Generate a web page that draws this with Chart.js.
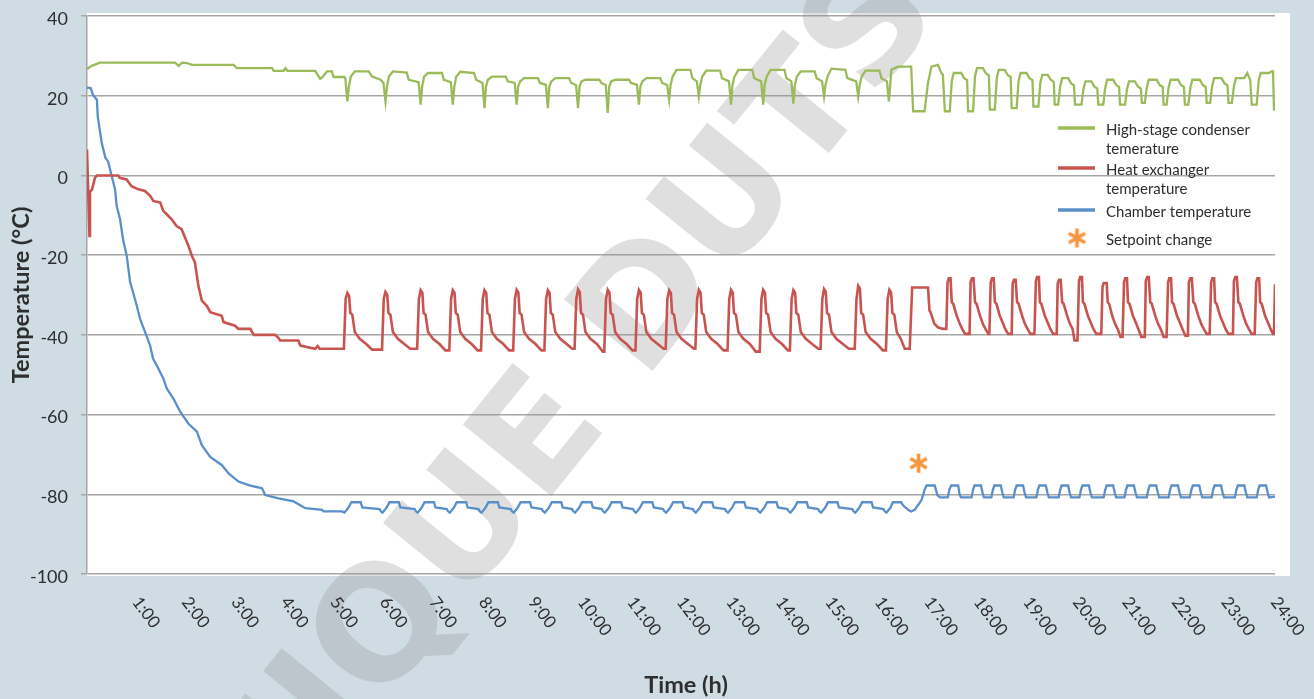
<!DOCTYPE html>
<html>
<head>
<meta charset="utf-8">
<title>Chamber temperatures</title>
<script src="https://cdn.jsdelivr.net/npm/chart.js@4.4.1/dist/chart.umd.min.js"></script>
<style>
  html, body { margin: 0; padding: 0; background: #cfdce4; }
  #wrap { width: 1314px; height: 699px; position: relative; }
</style>
</head>
<body>
<div id="wrap"><canvas id="chart"></canvas></div>
<script>
// [hours, degC] pairs
var condenser = [
  [0,26.7],[0.095,27.5],[0.26,28.3],[1.78,28.3],[1.85,27.5],[1.92,28.3],[2.02,28.2],[2.12,27.75],
  [2.96,27.75],[3.03,26.9],[3.74,26.9],[3.77,26.25],[3.97,26.25],[4.01,26.9],[4.05,26.25],[4.61,26.25],
  [4.71,24.25],[4.75,24.6],[4.85,26.1],[4.95,26.1],[4.98,24.7],[5.2,24.7],[5.22,24.2],
  [5.26,18.6],[5.29,22.3],[5.33,24.8],[5.41,26.1],[5.69,26.1],[5.76,24.8],[5.93,24],[5.99,23.2],
  [6.03,18.6],[6.06,22.3],[6.10,24.8],[6.18,26.1],[6.46,25.8],[6.50,24],[6.70,23.4],
  [6.74,17.75],[6.77,22.3],[6.81,24.8],[6.89,25.7],[7.17,25.7],[7.21,24],[7.35,23.4],
  [7.39,17.75],[7.42,22.3],[7.46,24.8],[7.54,26],[7.82,25.7],[7.86,24],[7.99,23.2],
  [8.03,16.9],[8.06,22.3],[8.10,24],[8.18,24.8],[8.46,24.8],[8.50,23.6],[8.64,23.2],
  [8.68,17.75],[8.71,22.3],[8.75,23.6],[8.83,24.4],[9.11,24.4],[9.15,23.2],[9.27,22.7],
  [9.31,16.9],[9.34,22.3],[9.38,23.6],[9.46,24.4],[9.74,24.4],[9.78,23.2],[9.88,22.7],
  [9.92,16.9],[9.95,22.3],[9.99,23.6],[10.07,24],[10.35,24],[10.39,23.2],[10.48,22.7],
  [10.52,15.7],[10.55,22.3],[10.59,23.6],[10.67,24],[10.95,24],[10.99,23.2],[11.11,22.7],
  [11.15,17.75],[11.18,22.3],[11.22,23.6],[11.30,24.4],[11.58,24.4],[11.62,23.2],[11.72,22.7],
  [11.76,19],[11.79,22.7],[11.83,24.8],[11.91,26.5],[12.19,26.5],[12.23,24.4],[12.32,23.6],
  [12.36,19.8],[12.39,22.7],[12.43,24.8],[12.51,26.3],[12.79,26.3],[12.83,24.4],[12.97,23.6],
  [13.01,17.75],[13.04,22.7],[13.08,24.8],[13.16,26.5],[13.44,26.5],[13.48,24.4],[13.62,23.6],
  [13.66,17.75],[13.69,22.7],[13.73,24.8],[13.81,26.5],[14.09,26.5],[14.13,24.4],[14.23,23.6],
  [14.27,18],[14.30,22.7],[14.34,24.8],[14.42,26.1],[14.70,26.1],[14.74,24.4],[14.85,23.6],
  [14.89,19.8],[14.92,22.7],[14.96,24.8],[15.04,26.8],[15.32,26.5],[15.36,24.4],[15.54,23.6],
  [15.58,19.8],[15.61,22.7],[15.65,24.8],[15.73,26.3],[16.01,26.3],[16.05,24.4],[16.16,23.6],
  [16.20,18.6],[16.25,26.5],[16.38,27.3],[16.65,27.3],[16.69,16.1],[16.92,16.1],[16.99,23.2],
  [17.06,27.3],[17.19,27.75],[17.26,25.7],[17.29,25.25],[17.33,16.1],[17.43,16.1],
  [17.47,23.7],[17.51,25.7],[17.66,25.7],[17.72,24.4],[17.78,23.9],[17.80,16.1],[17.90,16.1],
  [17.94,24.9],[17.98,26.9],[18.10,26.9],[18.16,25.6],[18.22,25.1],[18.24,16.5],[18.34,16.5],
  [18.38,24.5],[18.42,26.5],[18.54,26.5],[18.60,25.2],[18.66,24.7],[18.68,16.9],[18.78,16.9],
  [18.82,23.7],[18.86,25.7],[18.98,25.7],[19.04,24.4],[19.10,23.9],[19.12,17.3],[19.22,17.3],
  [19.26,23.3],[19.30,25.25],[19.41,25.25],[19.47,24],[19.53,23.5],[19.55,17.75],[19.62,17.75],
  [19.66,22.4],[19.70,24.4],[19.82,24.4],[19.88,23.1],[19.94,22.6],[19.96,17.75],[20.09,17.75],
  [20.13,21.6],[20.17,23.6],[20.29,23.6],[20.35,22.3],[20.41,21.8],[20.43,17.75],[20.53,17.75],
  [20.57,22],[20.61,24],[20.73,24],[20.79,22.7],[20.85,22.2],[20.87,17.75],[20.97,17.75],
  [21.01,21.6],[21.05,23.6],[21.17,23.6],[21.23,22.3],[21.29,21.8],[21.31,18.2],[21.37,18.2],
  [21.41,22],[21.45,24],[21.61,24],[21.67,22.7],[21.73,22.2],[21.75,17.75],[21.81,17.75],
  [21.85,22],[21.89,24],[22.04,24],[22.10,22.7],[22.16,22.2],[22.18,17.75],[22.25,17.75],
  [22.29,22],[22.33,24],[22.48,24],[22.54,22.7],[22.60,22.2],[22.62,18.2],[22.69,18.2],
  [22.73,22.4],[22.77,24.4],[22.92,24.4],[22.98,23.1],[23.04,22.6],[23.06,18.2],[23.13,18.2],
  [23.17,22.4],[23.21,24.4],[23.38,24.4],[23.44,25.7],[23.50,23.9],[23.53,17.75],[23.63,17.75],
  [23.67,23.7],[23.71,25.7],[23.88,25.7],[23.93,26.1],[23.96,26.1],[23.98,16.5],[24.0,16.5]
];

var exchanger = [
  [0,6.5],[0.05,-15.2],[0.06,-4],[0.1,-3.6],[0.16,-0.6],[0.2,0],[0.63,0],[0.66,-0.6],[0.8,-1],
  [0.9,-2.7],[1.04,-3.5],[1.17,-3.9],[1.28,-5.2],[1.34,-6.4],[1.48,-6.8],[1.54,-8.9],[1.61,-9.75],
  [1.71,-11],[1.81,-12.7],[1.91,-13.5],[1.98,-15.6],[2.05,-17.7],[2.12,-20.2],[2.18,-21.8],
  [2.25,-27.7],[2.32,-31.4],[2.42,-32.7],[2.49,-34.3],[2.72,-35.2],[2.76,-36.8],[2.99,-37.7],
  [3.06,-38.5],[3.3,-38.5],[3.37,-40],[3.8,-40],[3.87,-40.8],[3.9,-41.4],[4.27,-41.4],[4.31,-42.7],
  [4.61,-43.5],[4.66,-42.8],[4.7,-43.5],[5.19,-43.5],
  [5.225,-31],[5.26,-29.5],[5.295,-30.2],[5.32,-34.5],[5.36,-35],[5.41,-39.3],[5.51,-41],[5.64,-42.3],[5.76,-43.7],
  [5.96,-43.7],[5.995,-31],[6.03,-29.2],[6.065,-29.9],[6.09,-34.5],[6.13,-35],[6.18,-39.3],[6.28,-41],[6.41,-42.3],[6.53,-43.5],
  [6.67,-43.5],[6.705,-31],[6.74,-28.8],[6.775,-29.5],[6.80,-34.5],[6.84,-35],[6.89,-39.3],[6.99,-41],[7.12,-42.3],[7.24,-43.9],
  [7.32,-43.9],[7.355,-31],[7.39,-28.8],[7.425,-29.5],[7.45,-34.5],[7.49,-35],[7.54,-39.3],[7.64,-41],[7.77,-42.3],[7.89,-43.9],
  [7.96,-43.9],[7.995,-31],[8.03,-28.8],[8.065,-29.5],[8.09,-34.5],[8.13,-35],[8.18,-39.3],[8.28,-41],[8.41,-42.3],[8.53,-43.9],
  [8.61,-43.9],[8.645,-31],[8.68,-28.7],[8.715,-29.4],[8.74,-34.5],[8.78,-35],[8.83,-39.3],[8.93,-41],[9.06,-42.3],[9.18,-43.9],
  [9.24,-43.9],[9.275,-31],[9.31,-28.8],[9.345,-29.5],[9.37,-34.5],[9.41,-35],[9.46,-39.3],[9.56,-41],[9.69,-42.3],[9.80,-43.5],
  [9.85,-43.5],[9.885,-31],[9.92,-28.6],[9.955,-29.3],[9.98,-34.5],[10.02,-35],[10.07,-39.3],[10.17,-41],[10.30,-42.3],[10.42,-44.2],
  [10.45,-44.2],[10.485,-31],[10.52,-28.7],[10.555,-29.4],[10.58,-34.5],[10.62,-35],[10.67,-39.3],[10.77,-41],[10.90,-42.3],[11.02,-43.9],
  [11.08,-43.9],[11.115,-31],[11.15,-28.7],[11.185,-29.4],[11.21,-34.5],[11.25,-35],[11.30,-39.3],[11.40,-41],[11.53,-42.3],[11.65,-43.5],
  [11.69,-43.5],[11.725,-31],[11.76,-28.8],[11.795,-29.5],[11.82,-34.5],[11.86,-35],[11.91,-39.3],[12.01,-41],[12.14,-42.3],[12.26,-43.5],
  [12.29,-43.5],[12.325,-31],[12.36,-28.7],[12.395,-29.4],[12.42,-34.5],[12.46,-35],[12.51,-39.3],[12.61,-41],[12.74,-42.3],[12.86,-43.9],
  [12.94,-43.9],[12.975,-31],[13.01,-28.7],[13.045,-29.4],[13.07,-34.5],[13.11,-35],[13.16,-39.3],[13.26,-41],[13.39,-42.3],[13.51,-44.2],
  [13.59,-44.2],[13.625,-31],[13.66,-28.7],[13.695,-29.4],[13.72,-34.5],[13.76,-35],[13.81,-39.3],[13.91,-41],[14.04,-42.3],[14.16,-43.9],
  [14.20,-43.9],[14.235,-31],[14.27,-28.8],[14.305,-29.5],[14.33,-34.5],[14.37,-35],[14.42,-39.3],[14.52,-41],[14.65,-42.3],[14.77,-43.5],
  [14.82,-43.5],[14.855,-31],[14.89,-28.5],[14.925,-29.2],[14.95,-34.5],[14.99,-35],[15.04,-39.3],[15.14,-41],[15.27,-42.3],[15.39,-43.5],
  [15.51,-43.5],[15.545,-31],[15.58,-27.7],[15.615,-28.4],[15.64,-34.5],[15.68,-35],[15.73,-39.3],[15.83,-41],[15.96,-42.3],[16.08,-43.9],
  [16.14,-43.9],[16.175,-31],[16.21,-28.7],[16.245,-29.4],[16.27,-34.5],[16.31,-35],[16.36,-39.3],[16.44,-41],[16.52,-43.5],[16.62,-43.5],
  [16.67,-28.1],[16.99,-28.1],[17.02,-33.9],[17.04,-34.3],[17.12,-37.25],[17.19,-38.1],[17.29,-38.5],
  [17.36,-38.5],[17.385,-26.8],[17.41,-25.8],[17.445,-25.8],[17.47,-31.8],[17.50,-32.2],[17.57,-35.2],[17.635,-37.3],[17.68,-38.5],[17.74,-39.75],
  [17.83,-39.75],[17.85,-26.8],[17.877,-25.8],[17.91,-25.8],[17.94,-31.8],[17.97,-32.2],[18.04,-35.2],[18.10,-37.3],[18.15,-38.5],[18.21,-39.75],
  [18.23,-39.75],[18.257,-26.8],[18.282,-25.8],[18.317,-25.8],[18.342,-31.8],[18.372,-32.2],[18.44,-35.2],[18.51,-37.3],[18.55,-38.5],[18.61,-39.75],
  [18.68,-39.75],[18.70,-27.2],[18.727,-26.2],[18.76,-26.2],[18.79,-31.8],[18.82,-32.2],[18.89,-35.2],[18.95,-37.3],[19.0,-38.5],[19.06,-39.75],
  [19.14,-39.75],[19.17,-26.5],[19.193,-25.5],[19.23,-25.5],[19.25,-31.8],[19.28,-32.2],[19.35,-35.2],[19.42,-37.3],[19.46,-38.5],[19.52,-39.75],
  [19.59,-39.75],[19.61,-27.2],[19.638,-26.2],[19.67,-26.2],[19.70,-31.8],[19.73,-32.2],[19.80,-35.2],[19.86,-37.3],[19.91,-38.5],[19.95,-41.4],
  [20.01,-41.4],[20.04,-26.5],[20.063,-25.5],[20.10,-25.5],[20.12,-31.8],[20.15,-32.2],[20.22,-35.2],[20.29,-37.3],[20.33,-38.5],[20.39,-39.75],
  [20.49,-39.75],[20.515,-28],[20.54,-27],[20.60,-27],[20.62,-31.8],[20.65,-32.2],[20.71,-35.2],[20.77,-37.3],[20.82,-38.5],[20.88,-40.5],
  [20.92,-40.5],[20.95,-26.8],[20.973,-25.8],[21.01,-25.8],[21.03,-31.8],[21.06,-32.2],[21.13,-35.2],[21.20,-37.3],[21.24,-38.5],[21.30,-40.5],
  [21.37,-40.5],[21.39,-26.5],[21.418,-25.5],[21.45,-25.5],[21.48,-31.8],[21.51,-32.2],[21.58,-35.2],[21.64,-37.3],[21.69,-38.5],[21.75,-40.5],
  [21.81,-40.5],[21.84,-26.8],[21.864,-25.8],[21.90,-25.8],[21.92,-31.8],[21.95,-32.2],[22.02,-35.2],[22.09,-37.3],[22.13,-38.5],[22.19,-40.2],
  [22.24,-40.2],[22.26,-26.8],[22.289,-25.8],[22.32,-25.8],[22.35,-31.8],[22.38,-32.2],[22.45,-35.2],[22.51,-37.3],[22.56,-38.5],[22.62,-39.75],
  [22.68,-39.75],[22.71,-26.8],[22.734,-25.8],[22.77,-25.8],[22.79,-31.8],[22.82,-32.2],[22.89,-35.2],[22.96,-37.3],[23.0,-38.5],[23.06,-39.75],
  [23.15,-39.75],[23.17,-26.5],[23.199,-25.5],[23.23,-25.5],[23.26,-31.8],[23.29,-32.2],[23.36,-35.2],[23.42,-37.3],[23.47,-38.5],[23.53,-39.75],
  [23.59,-39.75],[23.62,-26.8],[23.644,-25.8],[23.68,-25.8],[23.70,-31.8],[23.73,-32.2],[23.80,-35.2],[23.87,-37.3],[23.91,-38.5],[23.96,-39.75],
  [23.98,-39.75],[24.0,-27.3]
];

var chamber = [
  [0,22],[0.075,21.9],[0.12,20.2],[0.2,19],[0.217,14.8],[0.263,11],[0.297,8.2],[0.37,4.5],[0.43,3.4],
  [0.5,-0.2],[0.567,-3.5],[0.6,-7.7],[0.668,-11],[0.728,-16],[0.803,-20.2],[0.87,-26.7],[0.93,-29.3],
  [1.006,-32.7],[1.072,-36],[1.174,-39.3],[1.275,-42.7],[1.335,-46],[1.41,-47.7],[1.544,-51],[1.613,-53.5],
  [1.746,-56],[1.882,-59.3],[2.05,-62.3],[2.22,-64.3],[2.32,-67.7],[2.489,-70.6],[2.726,-72.7],[2.86,-74.75],
  [3.06,-76.8],[3.264,-77.7],[3.535,-78.5],[3.6,-80.2],[3.87,-81],[4.175,-81.8],[4.41,-83.5],[4.75,-83.9],
  [4.78,-84.3],[5.15,-84.3],
  [5.20,-84.6],[5.28,-83.4],[5.34,-82],[5.53,-82],[5.56,-83.3],[5.91,-83.7],[5.93,-84.2],
  [5.97,-84.6],[6.05,-83.4],[6.11,-82],[6.30,-82],[6.33,-83.3],[6.62,-83.7],[6.64,-84.2],
  [6.68,-84.6],[6.76,-83.4],[6.82,-82],[7.01,-82],[7.04,-83.3],[7.27,-83.7],[7.29,-84.2],
  [7.33,-84.6],[7.41,-83.4],[7.47,-82],[7.66,-82],[7.69,-83.3],[7.91,-83.7],[7.93,-84.2],
  [7.97,-84.6],[8.05,-83.4],[8.11,-82],[8.30,-82],[8.33,-83.3],[8.56,-83.7],[8.58,-84.2],
  [8.62,-84.6],[8.70,-83.4],[8.76,-82],[8.95,-82],[8.98,-83.3],[9.19,-83.7],[9.21,-84.2],
  [9.25,-84.6],[9.33,-83.4],[9.39,-82],[9.58,-82],[9.61,-83.3],[9.80,-83.7],[9.82,-84.2],
  [9.86,-84.6],[9.94,-83.4],[10.0,-82],[10.19,-82],[10.22,-83.3],[10.40,-83.7],[10.42,-84.2],
  [10.46,-84.6],[10.54,-83.4],[10.60,-82],[10.79,-82],[10.82,-83.3],[11.03,-83.7],[11.05,-84.2],
  [11.09,-84.6],[11.17,-83.4],[11.23,-82],[11.42,-82],[11.45,-83.3],[11.64,-83.7],[11.66,-84.2],
  [11.70,-84.6],[11.78,-83.4],[11.84,-82],[12.03,-82],[12.06,-83.3],[12.24,-83.7],[12.26,-84.2],
  [12.30,-84.6],[12.38,-83.4],[12.44,-82],[12.63,-82],[12.66,-83.3],[12.89,-83.7],[12.91,-84.2],
  [12.95,-84.6],[13.03,-83.4],[13.09,-82],[13.28,-82],[13.31,-83.3],[13.54,-83.7],[13.56,-84.2],
  [13.60,-84.6],[13.68,-83.4],[13.74,-82],[13.93,-82],[13.96,-83.3],[14.15,-83.7],[14.17,-84.2],
  [14.21,-84.6],[14.29,-83.4],[14.35,-82],[14.54,-82],[14.57,-83.3],[14.77,-83.7],[14.79,-84.2],
  [14.83,-84.6],[14.91,-83.4],[14.97,-82],[15.16,-82],[15.19,-83.3],[15.46,-83.7],[15.48,-84.2],
  [15.52,-84.6],[15.60,-83.4],[15.66,-82],[15.85,-82],[15.88,-83.3],[16.09,-83.7],[16.11,-84.2],
  [16.15,-84.6],[16.23,-83.4],[16.28,-82],[16.45,-82],[16.48,-82.7],[16.59,-83.9],[16.65,-84.3],
  [16.72,-83.9],[16.79,-82.7],[16.86,-81.4],[16.89,-80.2],[16.92,-78.9],[16.96,-77.8],[17.125,-77.8],
  [17.18,-80.2],[17.23,-80.8],
  [17.39,-80.8],[17.42,-78.9],[17.46,-77.8],[17.60,-77.8],[17.63,-80.2],[17.66,-80.8],
  [17.87,-80.8],[17.90,-78.9],[17.93,-77.8],[18.06,-77.8],[18.09,-79.5],[18.12,-80.8],
  [18.27,-80.8],[18.30,-78.9],[18.33,-77.8],[18.46,-77.8],[18.49,-79.5],[18.52,-80.8],
  [18.72,-80.8],[18.75,-78.9],[18.78,-77.8],[18.91,-77.8],[18.94,-79.5],[18.97,-80.8],
  [19.18,-80.8],[19.21,-78.9],[19.24,-77.8],[19.37,-77.8],[19.40,-79.5],[19.43,-80.8],
  [19.63,-80.8],[19.66,-78.9],[19.69,-77.8],[19.82,-77.8],[19.85,-79.5],[19.88,-80.8],
  [20.05,-80.8],[20.08,-78.9],[20.11,-77.8],[20.24,-77.8],[20.27,-79.5],[20.30,-80.8],
  [20.54,-80.8],[20.57,-78.9],[20.60,-77.8],[20.73,-77.8],[20.76,-79.5],[20.79,-80.8],
  [20.96,-80.8],[20.99,-78.9],[21.02,-77.8],[21.15,-77.8],[21.18,-79.5],[21.21,-80.8],
  [21.41,-80.8],[21.44,-78.9],[21.47,-77.8],[21.60,-77.8],[21.63,-79.5],[21.66,-80.8],
  [21.85,-80.8],[21.88,-78.9],[21.91,-77.8],[22.04,-77.8],[22.07,-79.5],[22.10,-80.8],
  [22.28,-80.8],[22.31,-78.9],[22.34,-77.8],[22.47,-77.8],[22.50,-79.5],[22.53,-80.8],
  [22.72,-80.8],[22.75,-78.9],[22.78,-77.8],[22.91,-77.8],[22.94,-79.5],[22.97,-80.8],
  [23.19,-80.8],[23.22,-78.9],[23.25,-77.8],[23.38,-77.8],[23.41,-79.5],[23.44,-80.8],
  [23.63,-80.8],[23.66,-78.9],[23.69,-77.8],[23.82,-77.8],[23.85,-79.5],[23.88,-80.8],
  [24.0,-80.6]
];

var setpoint = [[16.8, -72.2]];

var hourLabels = ['1:00','2:00','3:00','4:00','5:00','6:00','7:00','8:00','9:00','10:00','11:00','12:00',
  '13:00','14:00','15:00','16:00','17:00','18:00','19:00','20:00','21:00','22:00','23:00','24:00'];

var legendRows = [
  ['High-stage condenser', 'temerature'],
  ['Heat exchanger', 'temperature'],
  ['Chamber temperature'],
  ['Setpoint change']
];

var yTitle = 'Temperature (°C)';
var xTitle = 'Time (h)';
var watermark = 'TECHNIQUE DUTSCHER';

var green = '#9bbb59';
var red = '#c85450';
var blue = '#5b8fca';
var orange = '#f7963f';
var gridGray = '#a6a6a6';
var textColor = '#2e2e2e';

function toPoints(pairs) {
    return pairs.map(function(p) { return { x: p[0], y: p[1] }; });
}

// six armed asterisk used as the setpoint marker
function makeAsterisk(size) {
    var c = document.createElement('canvas');
    c.width = size;
    c.height = size;
    var g = c.getContext('2d');
    var r = size / 2 - 1;
    g.strokeStyle = orange;
    g.lineWidth = 3.6;
    g.translate(size / 2, size / 2);
    for (var i = 0; i < 3; i++) {
        var a = Math.PI / 2 + i * Math.PI / 3;
        g.beginPath();
        g.moveTo(-r * Math.cos(a), -r * Math.sin(a));
        g.lineTo(r * Math.cos(a), r * Math.sin(a));
        g.stroke();
    }
    return c;
}

var asterisk = makeAsterisk(21);

function drawWatermark(ctx) {
    ctx.save();
    ctx.font = 'bold 156px "DejaVu Sans"';
    ctx.fillStyle = 'rgba(148,148,148,0.3)';
    var before = ctx.measureText('TECHNIQUE ').width;
    var d = ctx.measureText('D').width;
    // centre of the "D", text runs up to the right
    ctx.translate(640, 296);
    ctx.rotate(-51 * Math.PI / 180);
    ctx.fillText(watermark, -(before + d / 2), 57);
    ctx.restore();
}

function drawHourLabels(chart) {
    var ctx = chart.ctx;
    var xs = chart.scales.x;
    var bottom = chart.chartArea.bottom;
    ctx.save();
    ctx.font = '17px Lato';
    ctx.fillStyle = textColor;
    ctx.textAlign = 'left';
    ctx.textBaseline = 'middle';
    for (var i = 0; i < hourLabels.length; i++) {
        var x = xs.getPixelForValue(i + 1);
        ctx.save();
        ctx.translate(x - 0.5, bottom + 25);
        ctx.rotate(53 * Math.PI / 180);
        ctx.fillText(hourLabels[i], 0, 0);
        ctx.restore();
    }
    ctx.restore();
}

function drawTitles(chart) {
    var ctx = chart.ctx;
    var a = chart.chartArea;
    ctx.save();
    ctx.font = 'bold 23.5px Lato';
    ctx.fillStyle = textColor;
    ctx.textAlign = 'center';
    ctx.textBaseline = 'middle';
    ctx.fillText(xTitle, (a.left + a.right) / 2 + 5, 685);
    ctx.translate(21, (a.top + a.bottom) / 2);
    ctx.rotate(-Math.PI / 2);
    ctx.fillText(yTitle, 0, 0);
    ctx.restore();
}

function drawLegend(chart) {
    var ctx = chart.ctx;
    var sets = chart.data.datasets;
    var rowY = [128, 168, 210, 238];
    ctx.save();
    ctx.font = '15px Lato';
    ctx.fillStyle = textColor;
    ctx.textAlign = 'left';
    ctx.textBaseline = 'middle';
    for (var i = 0; i < legendRows.length; i++) {
        var y = rowY[i];
        if (i < 3) {
            ctx.strokeStyle = sets[i].borderColor;
            ctx.lineWidth = 3.5;
            ctx.beginPath();
            ctx.moveTo(1058, y);
            ctx.lineTo(1095, y);
            ctx.stroke();
        } else {
            ctx.drawImage(asterisk, 1077 - asterisk.width / 2, y - asterisk.height / 2);
        }
        for (var j = 0; j < legendRows[i].length; j++) {
            ctx.fillText(legendRows[i][j], 1106, y + 2 + j * 19);
        }
    }
    ctx.restore();
}

var decor = {
    id: 'decor',
    beforeDraw: function(chart) {
        var ctx = chart.ctx;
        var a = chart.chartArea;
        ctx.save();
        ctx.fillStyle = '#cfdce4';
        ctx.fillRect(0, 0, chart.width, chart.height);
        ctx.fillStyle = '#ffffff';
        ctx.fillRect(a.left, a.top - 3, a.right - a.left + 15, a.bottom - a.top + 5);
        ctx.restore();
    },
    beforeDatasetsDraw: function(chart) {
        drawWatermark(chart.ctx);
    },
    afterDraw: function(chart) {
        drawHourLabels(chart);
        drawTitles(chart);
        drawLegend(chart);
    }
};

new Chart(document.getElementById('chart'), {
    type: 'line',
    data: {
        datasets: [
            { label: 'High-stage condenser temerature', data: toPoints(condenser),
              borderColor: green, borderWidth: 2.3 },
            { label: 'Heat exchanger temperature', data: toPoints(exchanger),
              borderColor: red, borderWidth: 2.6 },
            { label: 'Chamber temperature', data: toPoints(chamber),
              borderColor: blue, borderWidth: 2.3 },
            { label: 'Setpoint change', data: toPoints(setpoint), showLine: false,
              pointStyle: asterisk, pointRadius: 10, borderColor: orange }
        ]
    },
    options: {
        responsive: true,
        maintainAspectRatio: false,
        animation: false,
        layout: { padding: { top: 16, right: 39, bottom: 125, left: 0 } },
        elements: { line: { tension: 0 }, point: { radius: 0 } },
        plugins: { legend: { display: false }, tooltip: { enabled: false } },
        scales: {
            x: {
                type: 'linear', min: 0, max: 24,
                grid: { display: false },
                border: { display: false },
                ticks: { display: false },
                afterFit: function(s) { s.height = 0; }
            },
            y: {
                min: -100, max: 40,
                ticks: { stepSize: 20, color: textColor, padding: 13, labelOffset: 3,
                         font: { family: 'Lato', size: 18 } },
                grid: { color: gridGray, lineWidth: 1.5, tickLength: 6 },
                border: { color: gridGray, width: 1.5 },
                afterFit: function(s) {
                    // keep the plot box where the original has it
                    s.width = 87;
                    s.paddingTop = 0;
                    s.paddingBottom = 0;
                }
            }
        }
    },
    plugins: [decor]
});
</script>
</body>
</html>
